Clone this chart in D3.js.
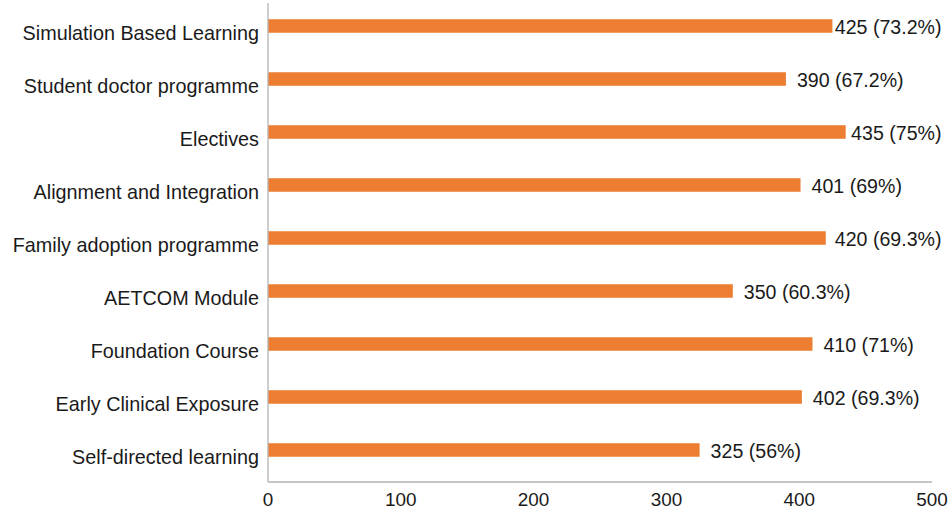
<!DOCTYPE html>
<html>
<head>
<meta charset="utf-8">
<script src="https://cdn.jsdelivr.net/npm/d3@7"></script>
<style>
  html, body { margin: 0; padding: 0; background: #fff; }
  svg { display: block; font-family: "Liberation Sans", Arial, sans-serif; }
</style>
</head>
<body>
<svg id="chart" width="951" height="510"></svg>
<script>
// Curriculum components, listed top to bottom
const categories = [
  "Simulation Based Learning",
  "Student doctor programme",
  "Electives",
  "Alignment and Integration",
  "Family adoption programme",
  "AETCOM Module",
  "Foundation Course",
  "Early Clinical Exposure",
  "Self-directed learning"
];
const counts = [425, 390, 435, 401, 420, 350, 410, 402, 325];
const percents = ["73.2%", "67.2%", "75%", "69%", "69.3%", "60.3%", "71%", "69.3%", "56%"];
const xTicks = [0, 100, 200, 300, 400, 500];

const svg = d3.select("#chart");
const plot = { left: 268, right: 932, top: -0.5, bottom: 476.5, axisBottom: 482 };

const x = d3.scaleLinear().domain([0, 500]).range([plot.left, plot.right]);
const y = d3.scaleBand().domain(categories).range([plot.top, plot.bottom]).paddingInner(0.745).paddingOuter(0.3725);

const rows = categories.map((c, i) => ({ cat: c, value: counts[i], label: `${counts[i]} (${percents[i]})` }));
const mid = d => y(d.cat) + y.bandwidth() / 2;

// Bars
svg.append("g").selectAll("rect").data(rows).join("rect")
  .attr("x", x(0))
  .attr("y", d => y(d.cat))
  .attr("width", d => x(d.value) - x(0))
  .attr("height", y.bandwidth())
  .attr("fill", "#ED7D31");

// Axis lines
svg.append("line").attr("x1", x(0)).attr("x2", x(0)).attr("y1", 3).attr("y2", plot.axisBottom)
  .attr("stroke", "#b3b3b3").attr("stroke-width", 1.3);
svg.append("line").attr("x1", x(0)).attr("x2", x(500)).attr("y1", plot.axisBottom).attr("y2", plot.axisBottom)
  .attr("stroke", "#b3b3b3").attr("stroke-width", 1.3);

// Category labels
svg.append("g").selectAll("text").data(rows).join("text")
  .attr("x", x(0) - 9)
  .attr("y", d => mid(d) + 13.5)
  .attr("text-anchor", "end")
  .attr("font-size", 19.8)
  .attr("fill", "#1a1a1a")
  .text(d => d.cat);

// X tick labels
svg.append("g").selectAll("text").data(xTicks).join("text")
  .attr("x", d => x(d))
  .attr("y", 506)
  .attr("text-anchor", "middle")
  .attr("font-size", 18.9)
  .attr("fill", "#1a1a1a")
  .text(d => d);

// Value labels, kept inside the right edge of the chart area
const labelLimit = 941.5;
svg.append("g").selectAll("text").data(rows).join("text")
  .attr("y", d => mid(d) + 7.5)
  .attr("font-size", 19.6)
  .attr("fill", "#1a1a1a")
  .text(d => d.label)
  .attr("x", function(d) {
    const w = this.getComputedTextLength();
    return Math.min(x(d.value) + 11, labelLimit - w);
  });
</script>
</body>
</html>
